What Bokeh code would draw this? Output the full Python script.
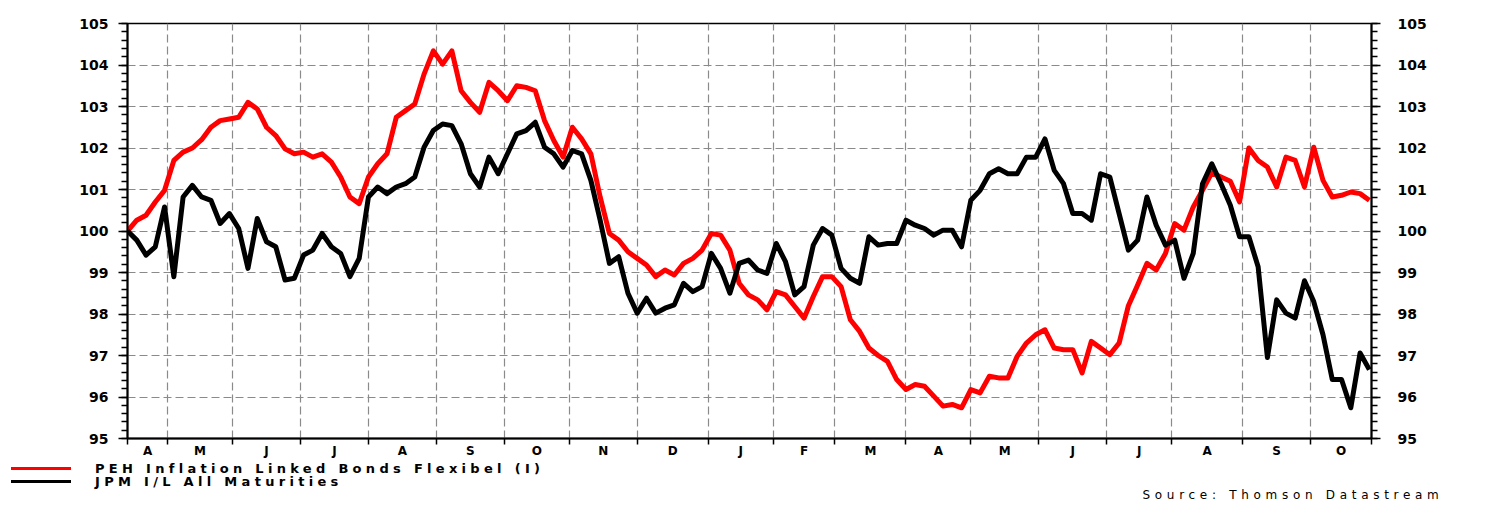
import pandas as pd
from bokeh.plotting import figure
from bokeh.layouts import column
from bokeh.models import (Range1d, LinearAxis, FixedTicker, Div)
from bokeh.embed import file_html
from bokeh.resources import INLINE

# ---------------- data ----------------
START = "2004-04-14"
END = "2005-10-28"
STEP = 3  # one reading every third business day

series_names = ["PEH Inflation Linked Bonds Flexibel (I)", "JPM I/L All Maturities"]
series_colors = ["#ff0000", "#000000"]
source_text = "Source: Thomson Datastream"
month_initials = ["J", "F", "M", "A", "M", "J", "J", "A", "S", "O", "N", "D"]
y_ticks = [95, 96, 97, 98, 99, 100, 101, 102, 103, 104, 105]

peh = [100.0, 100.26, 100.38, 100.7, 100.98, 101.7, 101.9, 102.0, 102.2, 102.5, 102.66, 102.7, 102.74, 103.1,
       102.94, 102.5, 102.3, 101.98, 101.86, 101.9, 101.78, 101.86, 101.66, 101.3, 100.82, 100.66, 101.3,
       101.62, 101.86, 102.74, 102.9, 103.06, 103.78, 104.34, 104.02, 104.34, 103.38, 103.1, 102.86, 103.58,
       103.38, 103.14, 103.5, 103.46, 103.38, 102.66, 102.18, 101.78, 102.5, 102.22, 101.86, 100.82, 99.94, 99.78,
       99.5, 99.34, 99.18, 98.9, 99.06, 98.94, 99.22, 99.34, 99.54, 99.94, 99.9, 99.54, 98.74, 98.46, 98.34,
       98.1, 98.54, 98.46, 98.18, 97.9, 98.42, 98.9, 98.9, 98.66, 97.86, 97.58, 97.18,
       97.0, 96.86, 96.42, 96.18, 96.3, 96.26, 96.02, 95.78, 95.82, 95.74, 96.18, 96.1, 96.5, 96.46, 96.46,
       96.98, 97.3, 97.5, 97.62, 97.18, 97.14, 97.14, 96.58, 97.34, 97.18, 97.02, 97.3,
       98.2, 98.7, 99.22, 99.06, 99.46, 100.18, 100.02, 100.58, 100.98, 101.4, 101.3, 101.2, 100.7, 102.0,
       101.7, 101.54, 101.06, 101.78, 101.7, 101.06, 102.02, 101.22, 100.82, 100.86, 100.94, 100.9, 100.74]

jpm = [100.0, 99.78, 99.42, 99.62, 100.58, 98.9, 100.82, 101.1, 100.82, 100.74, 100.18, 100.42, 100.06, 99.1,
       100.3, 99.74, 99.62, 98.82, 98.86, 99.42, 99.54, 99.94, 99.62, 99.46, 98.9, 99.34, 100.82,
       101.06, 100.9, 101.06, 101.14, 101.3, 102.02, 102.42, 102.58, 102.54, 102.1, 101.38, 101.06, 101.78,
       101.38, 101.86, 102.34, 102.42, 102.62, 102.02, 101.86, 101.54, 101.94, 101.86, 101.22, 100.26, 99.22, 99.38,
       98.5, 98.02, 98.38, 98.02, 98.14, 98.22, 98.74, 98.54, 98.66, 99.46, 99.1, 98.5, 99.22, 99.3, 99.06,
       98.98, 99.7, 99.26, 98.46, 98.66, 99.66, 100.06, 99.9, 99.1, 98.86, 98.74, 99.86,
       99.66, 99.7, 99.7, 100.26, 100.14, 100.06, 99.9, 100.02, 100.02, 99.62, 100.74, 100.98, 101.38, 101.5,
       101.38, 101.38, 101.78, 101.78, 102.22, 101.46, 101.14, 100.42, 100.42, 100.26, 101.38, 101.3, 100.42,
       99.54, 99.78, 100.82, 100.14, 99.66, 99.78, 98.86, 99.46, 101.14, 101.62, 101.14, 100.62, 99.86, 99.86,
       99.14, 96.95, 98.34, 98.02, 97.9, 98.8, 98.3, 97.5, 96.42, 96.42, 95.74, 97.06, 96.66]

# ---------------- x positions (business-day index) ----------------
all_days = pd.bdate_range(START, END)
sample_days = all_days[::STEP]
x = [int(all_days.get_loc(d)) for d in sample_days]

months = all_days.to_period("M")
bounds = [i for i in range(len(all_days)) if i == 0 or months[i] != months[i - 1]]
x_end = len(all_days) - 1 + 0.7
edges = bounds + [x_end]
mids = [(edges[i] + edges[i + 1]) / 2 for i in range(len(bounds))]
labels = {m: month_initials[months[b].month - 1] for m, b in zip(mids, bounds)}

# ---------------- main figure ----------------
FONT = "DejaVu Sans"
H_MAIN = 462
p = figure(width=1487, height=H_MAIN, output_backend="svg", toolbar_location=None,
           x_range=Range1d(0, x_end), y_range=Range1d(95, 105),
           min_border_left=127, min_border_right=116, min_border_top=23, min_border_bottom=24)
p.background_fill_color = "white"
p.border_fill_color = "white"
p.outline_line_color = "black"
p.outline_line_width = 1.5

# x axis
xa = p.xaxis[0]
xa.ticker = FixedTicker(ticks=mids, minor_ticks=edges)
xa.major_label_overrides = labels
xa.major_tick_out = 0
xa.major_tick_in = 0
xa.minor_tick_out = 6
xa.minor_tick_in = 0
xa.minor_tick_line_color = "black"
xa.minor_tick_line_width = 1.5
xa.axis_line_width = 2
xa.axis_line_color = "black"
xa.major_label_standoff = -1
xa.major_label_text_font = FONT
xa.major_label_text_font_style = "bold"
xa.major_label_text_font_size = "12px"
xa.major_label_text_color = "black"

# y axes
minor_y = [95 + 0.2 * i for i in range(51)]
ya = p.yaxis[0]
yr = LinearAxis()
p.add_layout(yr, "right")
for ax, standoff in ((ya, 10), (yr, 17)):
    ax.ticker = FixedTicker(ticks=y_ticks, minor_ticks=minor_y)
    ax.major_tick_out = 9
    ax.major_tick_in = 0
    ax.minor_tick_out = 6
    ax.minor_tick_in = 0
    ax.major_tick_line_width = 1.5
    ax.minor_tick_line_width = 1.5
    ax.axis_line_width = 2
    ax.axis_line_color = "black"
    ax.major_label_standoff = standoff
    ax.major_label_text_font = FONT
    ax.major_label_text_font_style = "bold"
    ax.major_label_text_font_size = "14px"
    ax.major_label_text_color = "black"

# grids
p.xgrid.ticker = FixedTicker(ticks=bounds[1:])
p.ygrid.ticker = FixedTicker(ticks=y_ticks[1:-1])
for g in (p.xgrid, p.ygrid):
    g.grid_line_color = "#8a8a8a"
    g.grid_line_dash = "8 4"
    g.grid_line_width = 1.2

# series
p.line(x, peh, line_color=series_colors[0], line_width=5, line_join="round")
p.line(x, jpm, line_color=series_colors[1], line_width=5, line_join="round")

# ---------------- legend + source strip (HTML) ----------------
H_STRIP = 507 - H_MAIN
item_html = ""
for i, (name, col) in enumerate(zip(series_names, series_colors)):
    top = i * 13
    item_html += (
        f'<div style="position:absolute;left:11px;top:{top + 5}px;width:60px;height:0;'
        f'border-top:3px solid {col};"></div>'
        f'<div style="position:absolute;left:95px;top:{top}px;white-space:nowrap;'
        f'font-weight:bold;font-size:13px;line-height:13px;letter-spacing:4.3px;color:#000;">{name}</div>'
    )
src_html = (
    f'<div style="position:absolute;left:1118px;top:26px;width:350px;text-align:center;white-space:nowrap;'
    f'font-size:12px;line-height:14px;letter-spacing:4.7px;color:#000;">{source_text}</div>'
)
strip = Div(
    text=(f'<div style="position:relative;width:1487px;height:{H_STRIP}px;'
          f'font-family:\'{FONT}\', sans-serif;background:#fff;">{item_html}{src_html}</div>'),
    width=1487, height=H_STRIP, margin=0,
)

layout = column(p, strip, spacing=0)
open("out.html", "w").write(file_html(layout, INLINE))
